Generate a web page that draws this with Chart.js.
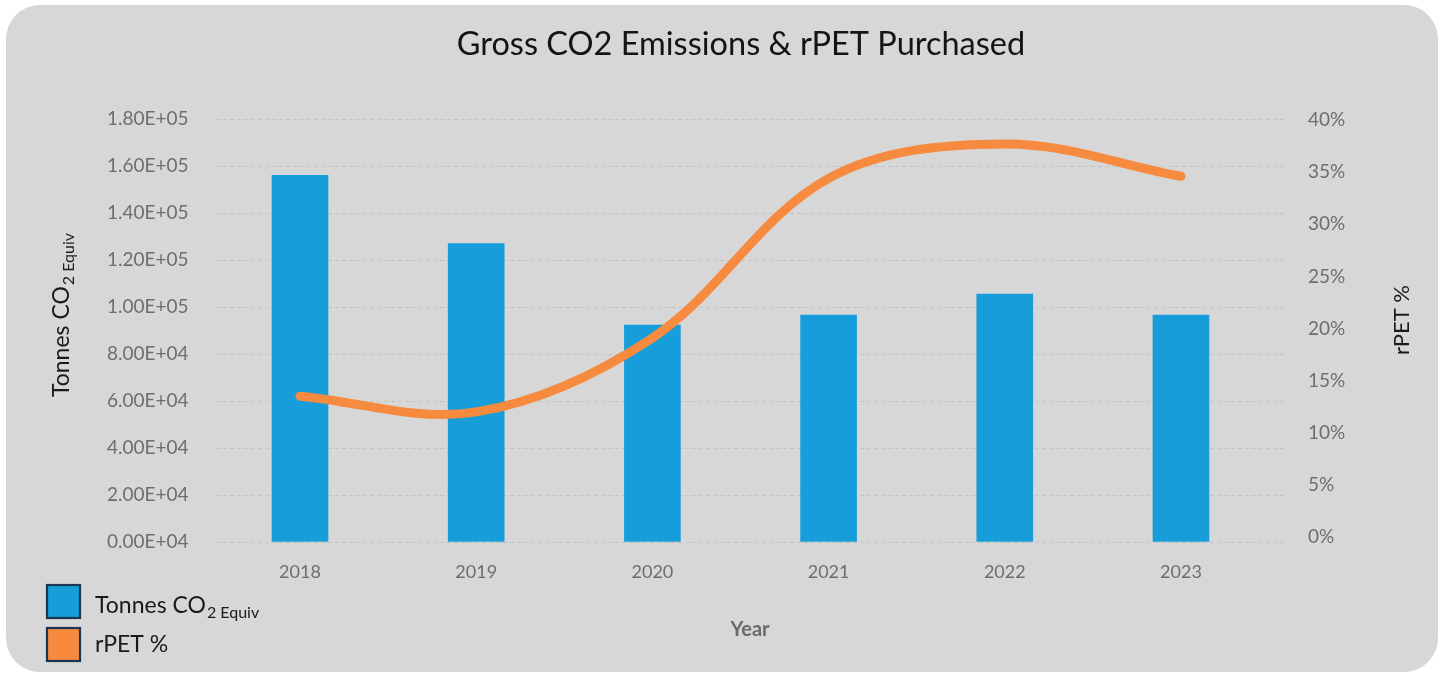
<!DOCTYPE html>
<html>
<head>
<meta charset="utf-8">
<script src="https://cdn.jsdelivr.net/npm/chart.js@4/dist/chart.umd.min.js"></script>
<style>
  html, body { margin: 0; padding: 0; background: #ffffff; }
  #wrap { position: relative; width: 1440px; height: 674px; overflow: hidden; }
  #panel { position: absolute; left: 6px; top: 5px; width: 1432px; height: 667px; border-radius: 34px; background: #d7d7d7; }
  #c { position: absolute; left: 0; top: 0; }
</style>
</head>
<body>
<div id="wrap">
  <div id="panel"></div>
  <canvas id="c" width="1440" height="674"></canvas>
</div>
<script>
// ---- data ----
const years = [2018, 2019, 2020, 2021, 2022, 2023];
const co2Tonnes = [156000, 127000, 92300, 96600, 105500, 96600];
const rpetPercent = [13.5, 12.0, 19.1, 34.4, 37.7, 34.6];
const leftTickValues = [0, 20000, 40000, 60000, 80000, 100000, 120000, 140000, 160000, 180000];
const leftTickLabels = ['0.00E+04', '2.00E+04', '4.00E+04', '6.00E+04', '8.00E+04', '1.00E+05', '1.20E+05', '1.40E+05', '1.60E+05', '1.80E+05'];
const rightTickValues = [0, 5, 10, 15, 20, 25, 30, 35, 40];
const seriesNames = ['Tonnes CO', 'rPET %'];
const subscriptText = '2 Equiv';
const chartTitle = 'Gross CO2 Emissions & rPET Purchased';
const xTitle = 'Year';

// ---- styles ----
const BAR_COLOR = '#179dd9';
const LINE_COLOR = '#f68a3f';
const TICK_COLOR = '#6e6e6e';
const FONT = 'Lato, "Open Sans", sans-serif';

function drawSubText(ctx, x, y, mainSize, subSize, subDrop) {
  ctx.font = mainSize + 'px ' + FONT;
  const wMain = ctx.measureText(seriesNames[0]).width;
  ctx.fillText(seriesNames[0], x, y);
  ctx.font = subSize + 'px ' + FONT;
  ctx.fillText(subscriptText, x + wMain + 1, y + subDrop);
}

const extraText = {
  id: 'extraText',
  afterDraw(chart) {
    const ctx = chart.ctx;
    // left axis title with subscript
    ctx.save();
    ctx.translate(61, 315);
    ctx.rotate(-Math.PI / 2);
    ctx.fillStyle = '#1a1a1a';
    ctx.textBaseline = 'alphabetic';
    ctx.textAlign = 'left';
    ctx.font = '23px ' + FONT;
    const wMain = ctx.measureText(seriesNames[0]).width;
    ctx.font = '16px ' + FONT;
    const wSub = ctx.measureText(subscriptText).width;
    const total = wMain + 1 + wSub;
    drawSubText(ctx, -total / 2, 8, 23, 16, 5);
    ctx.restore();

    // right axis title
    ctx.save();
    ctx.translate(1402, 320);
    ctx.rotate(-Math.PI / 2);
    ctx.fillStyle = '#1a1a1a';
    ctx.font = '22px ' + FONT;
    ctx.textAlign = 'center';
    ctx.textBaseline = 'middle';
    ctx.fillText(seriesNames[1], 0, 0);
    ctx.restore();

    // legend
    ctx.save();
    const boxes = [[47, 585, BAR_COLOR], [47, 628, LINE_COLOR]];
    boxes.forEach(([x, y, col]) => {
      ctx.fillStyle = col;
      ctx.fillRect(x, y, 33, 33);
      ctx.strokeStyle = '#1d3552';
      ctx.lineWidth = 2.2;
      ctx.strokeRect(x, y, 33, 33);
    });
    ctx.fillStyle = '#1a1a1a';
    ctx.textAlign = 'left';
    ctx.textBaseline = 'alphabetic';
    drawSubText(ctx, 95, 613, 23, 16, 5);
    ctx.font = '23px ' + FONT;
    ctx.fillText(seriesNames[1], 95, 652);
    ctx.restore();
  }
};

const ctx = document.getElementById('c').getContext('2d');
new Chart(ctx, {
  data: {
    datasets: [
      {
        type: 'line',
        label: seriesNames[1],
        data: years.map((y, i) => ({ x: y, y: rpetPercent[i] })),
        yAxisID: 'yR',
        borderColor: LINE_COLOR,
        backgroundColor: LINE_COLOR,
        borderWidth: 9,
        borderCapStyle: 'round',
        borderJoinStyle: 'round',
        pointRadius: 0,
        pointHoverRadius: 0,
        tension: 0.35,
        order: 0
      },
      {
        type: 'bar',
        label: seriesNames[0] + subscriptText,
        data: years.map((y, i) => ({ x: y, y: co2Tonnes[i] })),
        yAxisID: 'yL',
        backgroundColor: BAR_COLOR,
        borderWidth: 0,
        barThickness: 56,
        order: 1
      }
    ]
  },
  options: {
    responsive: false,
    animation: false,
    events: [],
    layout: { padding: { left: 107, right: 65, top: 0, bottom: 0 } },
    plugins: {
      legend: { display: false },
      tooltip: { enabled: false },
      title: {
        display: true,
        text: chartTitle,
        color: '#141414',
        font: { family: FONT, size: 32.5, weight: '400' },
        padding: { top: 25.5, bottom: 54.5 }
      }
    },
    scales: {
      x: {
        type: 'linear',
        position: 'bottom',
        offset: false,
        min: 2017.5233,
        max: 2023.5846,
        grid: { display: false, drawTicks: false, offset: false },
        border: { display: false },
        afterBuildTicks: (s) => { s.ticks = years.map(v => ({ value: v })); },
        afterFit: (s) => { s.height = 132; },
        ticks: {
          color: TICK_COLOR,
          font: { family: FONT, size: 18 },
          padding: 19,
          callback: (v) => String(v)
        },
        title: {
          display: true,
          text: xTitle,
          color: '#6a6a6a',
          font: { family: FONT, size: 20, weight: 'bold' },
          padding: { top: 0, bottom: 32 }
        }
      },
      yL: {
        type: 'linear',
        position: 'left',
        min: 0,
        max: 180000,
        afterBuildTicks: (s) => { s.ticks = leftTickValues.map(v => ({ value: v })); },
        afterFit: (s) => { s.width = 109; },
        grid: {
          color: '#c3c3c3',
          lineWidth: 1,
          drawTicks: false
        },
        border: { display: false, dash: [4, 3] },
        ticks: {
          color: TICK_COLOR,
          font: { family: FONT, size: 19 },
          crossAlign: 'far',
          padding: 0,
          callback: (v) => leftTickLabels[leftTickValues.indexOf(v)]
        }
      },
      yR: {
        type: 'linear',
        position: 'right',
        min: -0.4796,
        max: 40.096,
        afterBuildTicks: (s) => { s.ticks = rightTickValues.map(v => ({ value: v })); },
        afterFit: (s) => { s.width = 91; },
        grid: { display: false, drawTicks: false },
        border: { display: false },
        ticks: {
          color: TICK_COLOR,
          font: { family: FONT, size: 19 },
          padding: 24,
          callback: (v) => v + '%'
        }
      }
    }
  },
  plugins: [extraText]
});
</script>
</body>
</html>
